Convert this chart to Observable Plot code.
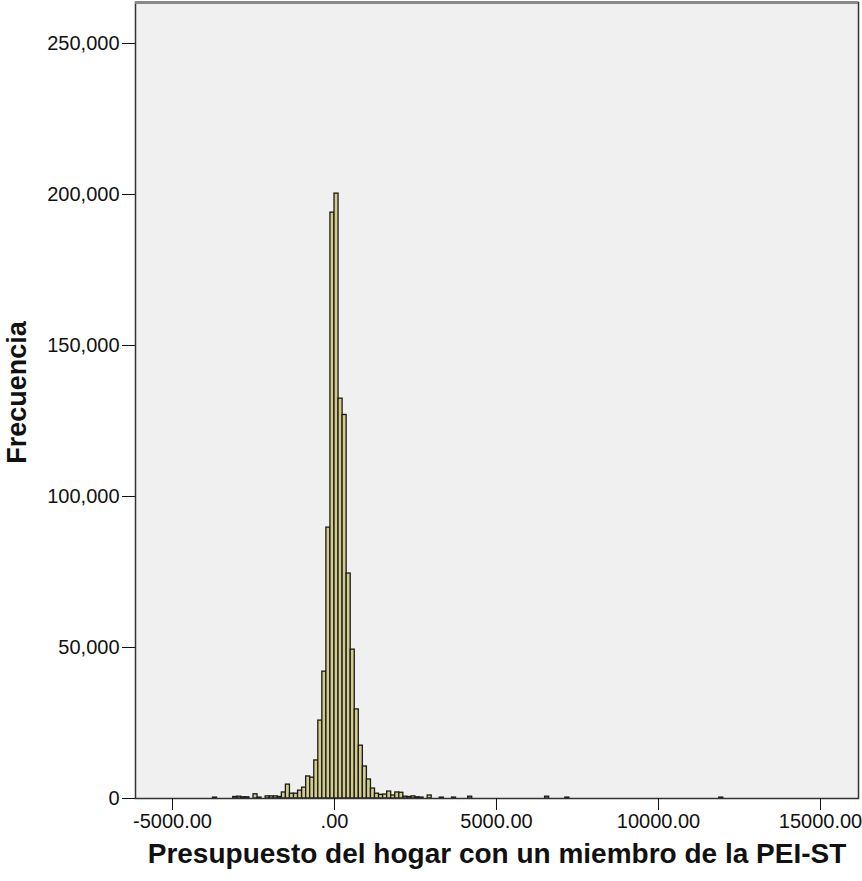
<!DOCTYPE html>
<html><head><meta charset="utf-8">
<script src="https://cdn.jsdelivr.net/npm/d3@7"></script>
<script src="https://cdn.jsdelivr.net/npm/@observablehq/plot@0.6"></script>
<style>body{margin:0;background:#fff;}</style>
</head><body><div id="chart"></div>
<script>
const binWidth = 125;
const binStart = [-3750,-3125,-3000,-2875,-2750,-2500,-2375,-2125,-2000,-1875,-1750,-1625,-1500,-1375,-1250,-1125,-1000,-875,-750,-625,-500,-375,-250,-125,0,125,250,375,500,625,750,875,1000,1125,1250,1375,1500,1625,1750,1875,2000,2125,2250,2375,2500,2625,2875,3250,3625,4125,6500,7125,11875];
const frequency = [300,500,600,400,400,1400,300,700,700,700,500,2000,4600,1600,1600,2600,3600,7300,6900,12600,25800,42000,89700,194000,200300,132400,127000,74500,49300,29500,17500,10600,6300,3300,1600,1200,1300,2300,1000,2000,1900,600,500,700,400,300,1000,300,300,600,600,300,300];
const xTicks = [-5000,0,5000,10000,15000];
const yTicks = [0,50000,100000,150000,200000,250000];
const xTitle = "Presupuesto del hogar con un miembro de la PEI-ST";
const yTitle = "Frecuencia";
const xDomain = [-6142,16173];
const yDomain = [0,263576];
const bins = binStart.map((s,i)=>({x1:s,x2:s+binWidth,y:frequency[i]}));
const chart = Plot.plot({
  width:862, height:881, marginLeft:135, marginRight:4, marginTop:2, marginBottom:83,
  style:{fontFamily:"'Liberation Sans', Arial, sans-serif", fontSize:"20px", color:"#111", background:"#fff", overflow:"visible"},
  x:{domain:xDomain, label:null},
  y:{domain:yDomain, label:null},
  marks:[
    Plot.frame({fill:"#f0f0f0", stroke:null}),
    Plot.rectY(bins,{x1:"x1",x2:"x2",y:"y",fill:"#d2cb8e",stroke:"#1a1a14",strokeWidth:1.3}),
    Plot.frame({stroke:"#333", strokeWidth:1.5}),
    Plot.ruleY([yDomain[1]],{stroke:"#888", strokeWidth:3}),
    Plot.axisY({ticks:yTicks, tickSize:13, tickPadding:3, tickFormat:d3.format(","), label:null}),
    Plot.axisX({ticks:xTicks, tickSize:12, tickPadding:3, tickFormat:d=>d===0?".00":d.toFixed(2), label:null}),
    Plot.text([xTitle],{frameAnchor:"bottom", dy:64, fontSize:28, fontWeight:"bold", fill:"#111"}),
    Plot.text([yTitle],{frameAnchor:"left", textAnchor:"middle", dx:-118, dy:-8, rotate:-90, fontSize:27, fontWeight:"bold", fill:"#111"})
  ]
});
document.getElementById("chart").append(chart);
</script>
</body></html>
